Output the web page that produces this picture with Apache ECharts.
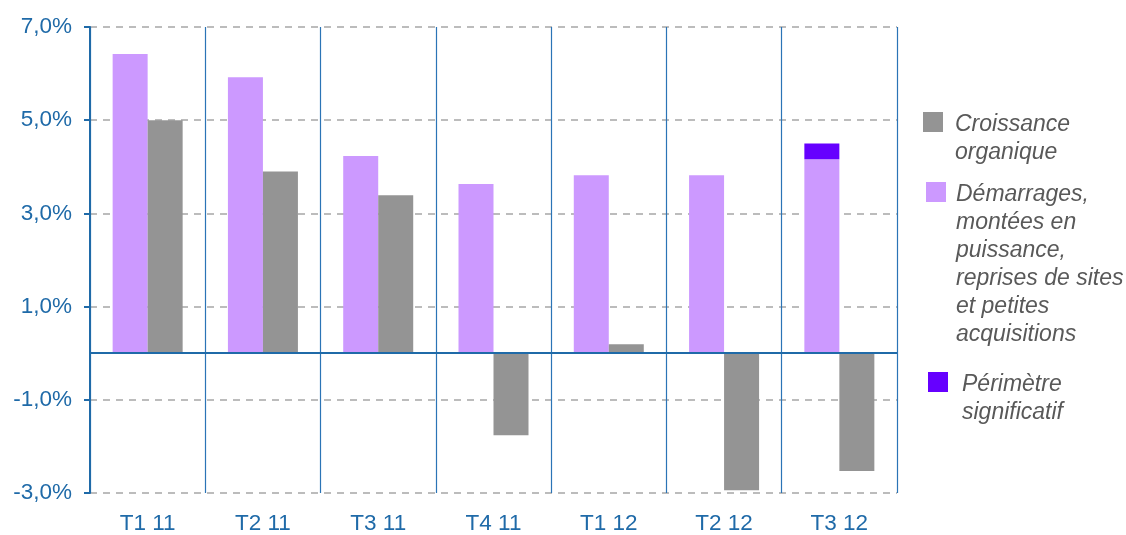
<!DOCTYPE html>
<html>
<head>
<meta charset="utf-8">
<script src="https://cdn.jsdelivr.net/npm/echarts@6/dist/echarts.min.js"></script>
<style>html,body{margin:0;padding:0;background:#fff}#c{width:1126px;height:535px}</style>
</head>
<body>
<div id="c"></div>
<script>
const categories = ['T1 11', 'T2 11', 'T3 11', 'T4 11', 'T1 12', 'T2 12', 'T3 12'];
const demarrages = [6.42, 5.92, 4.23, 3.63, 3.82, 3.82, 4.16];
const perimetre = [0, 0, 0, 0, 0, 0, 0.34];
const croissance = [5.0, 3.9, 3.39, -1.76, 0.19, -2.94, -2.53];
const yTicks = [-3, -1, 1, 3, 5, 7];

const nameC = 'Croissance organique';
const nameD = 'Démarrages, montées en puissance, reprises de sites et petites acquisitions';
const nameP = 'Périmètre significatif';
const legendLines = {};
legendLines[nameC] = ['Croissance', 'organique'];
legendLines[nameD] = ['Démarrages,', 'montées en', 'puissance,', 'reprises de sites', 'et petites', 'acquisitions'];
legendLines[nameP] = ['Périmètre', 'significatif'];

const blue = '#1f6aa8';
const font = 'Liberation Sans, Arial, sans-serif';
const LH = 28, SHIFT = 3;

function legendFmt(name) {
  const lines = legendLines[name];
  const out = [];
  for (let i = 0; i < lines.length - 1; i++) out.push(i === 0 ? '{t|\u00a0}' : '{b|\u00a0}');
  lines.forEach(l => out.push('{m|' + l + '}'));
  return out.join('\n');
}
function mkLegend(name, left, iconCenterY, padLeft) {
  const n = legendLines[name].length;
  const blockH = LH * (2 * n - 1) + 2 * SHIFT;
  return {
    data: [name], left: left, top: Math.round(iconCenterY - blockH / 2), orient: 'vertical', padding: 0,
    icon: 'rect', itemWidth: 20, itemHeight: 20, selectedMode: false,
    formatter: legendFmt,
    textStyle: {
      fontFamily: font, fontSize: 23, fontStyle: 'italic', color: '#595959', lineHeight: LH,
      padding: [0, 0, 0, padLeft],
      rich: {
        t: { fontFamily: font, fontSize: 23, lineHeight: LH + 2 * SHIFT },
        b: { fontFamily: font, fontSize: 23, lineHeight: LH },
        m: { fontFamily: font, fontSize: 23, fontStyle: 'italic', color: '#595959', lineHeight: LH }
      }
    }
  };
}

const chart = echarts.init(document.getElementById('c'), null, { renderer: 'canvas' });
chart.setOption({
  animation: false,
  grid: { left: 90, right: 229, top: 27, bottom: 42, containLabel: false },
  legend: [
    mkLegend(nameC, 923, 121.5, 7),
    mkLegend(nameD, 926, 191.5, 5),
    mkLegend(nameP, 928, 382, 9)
  ],
  xAxis: {
    type: 'category', data: categories, boundaryGap: true,
    axisLine: { show: false }, axisTick: { show: false },
    axisLabel: { color: blue, fontFamily: font, fontSize: 22.5, margin: 19 },
    splitLine: { show: true, lineStyle: { color: '#2b74b6', width: 1.2 } }
  },
  yAxis: {
    type: 'value', min: yTicks[0], max: yTicks[yTicks.length - 1], interval: 2,
    axisLine: { show: true, lineStyle: { color: blue, width: 2 } },
    axisTick: { show: true, length: 6, lineStyle: { color: blue, width: 2 } },
    axisLabel: { color: blue, fontFamily: font, fontSize: 22.5, margin: 18,
      formatter: v => v.toFixed(1).replace('.', ',') + '%' },
    splitLine: { show: true, lineStyle: { color: '#a6a6a6', type: [7, 6], width: 1.5 } }
  },
  series: [
    { name: nameD, type: 'bar', stack: 'a', data: demarrages, barWidth: 35, barGap: '0%',
      itemStyle: { color: '#cc99ff' },
      markLine: { silent: true, symbol: 'none', label: { show: false },
        lineStyle: { color: blue, width: 2, type: 'solid' }, data: [{ yAxis: 0 }] } },
    { name: nameP, type: 'bar', stack: 'a', data: perimetre, barWidth: 35, barGap: '0%',
      itemStyle: { color: '#6600ff' } },
    { name: nameC, type: 'bar', data: croissance, barWidth: 35, barGap: '0%',
      itemStyle: { color: '#949494' } }
  ]
});
</script>
</body>
</html>
